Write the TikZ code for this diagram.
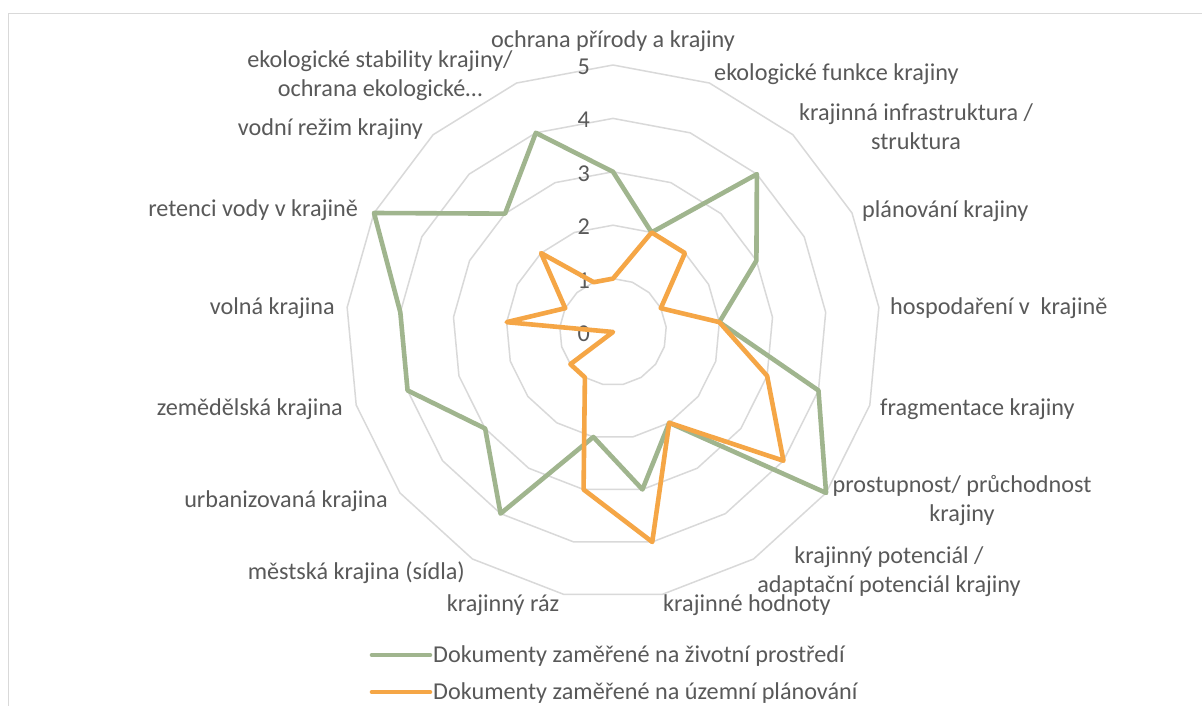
\documentclass[tikz,border=0pt]{standalone}
\usepackage{fontspec}
\setmainfont{Carlito}
\definecolor{txt}{HTML}{595959}
\definecolor{gridc}{HTML}{D9D9D9}
\definecolor{envg}{HTML}{A0B58E}
\definecolor{plano}{HTML}{F5A646}
\newcommand{\twoln}[2]{\vtop{\halign{\hfil##\hfil\cr #1\cr #2\cr}}}
\begin{document}
\begin{tikzpicture}[x=1pt,y=-1pt,
  every node/.style={font=\fontsize{24.2}{29}\selectfont, text=txt, inner sep=0pt},
  gridline/.style={draw=gridc, line width=1.5pt, line join=round},
  serg/.style={draw=envg, line width=4.6pt, line join=round},
  sero/.style={draw=plano, line width=4.6pt, line join=round},
  lbl/.style={anchor=base},
  lblw/.style={anchor=base west},
  lble/.style={anchor=base east}]
\useasboundingbox (0,0) rectangle (1202,705);
\fill[white] (0,0) rectangle (1202,705);
% chart border
\draw[draw=gridc, line width=1.5pt] (8.5,13.5) rectangle (1230,740);
% grid rings
\foreach \v in {1,...,5}{
  \foreach \k in {0,...,16}{
    \coordinate (r\v-\k) at ({613+\v*53.4*sin(\k*360/17)},{332-\v*53.4*cos(\k*360/17)});
  }
  \draw[gridline] (r\v-0) \foreach \k in {1,...,16}{ -- (r\v-\k)} -- cycle;
}
% scale labels
\foreach \v in {0,...,5}{
  \node[lble] (s\v) at (590,{332-\v*53.4+9.5}) {\v};
}
% data
\foreach \val [count=\k from 0] in {3,2,4,3,2,4,5,2,3,2,4,3,4,4,5,3,4}{
  \coordinate (g\k) at ({613+\val*53.4*sin(\k*360/17)},{332-\val*53.4*cos(\k*360/17)});
}
\foreach \val [count=\k from 0] in {1,2,2,1,2,3,4,2,4,3,1,1,0,2,1,2,1}{
  \coordinate (o\k) at ({613+\val*53.4*sin(\k*360/17)},{332-\val*53.4*cos(\k*360/17)});
}
\draw[serg] (g0) \foreach \k in {1,...,16}{ -- (g\k)} -- cycle;
\draw[sero] (o0) \foreach \k in {1,...,16}{ -- (o\k)} -- cycle;
% category labels
\node[lbl] (l0) at (613,47) {ochrana přírody a krajiny};
\node[lblw] (l1) at (714,80) {ekologické funkce krajiny};
\node[lbl] (l2) at (916,120) {\twoln{krajinná infrastruktura /}{struktura}};
\node[lblw] (l3) at (862,217) {plánování krajiny};
\node[lblw] (l4) at (890,314) {hospodaření v\ \ krajině};
\node[lblw] (l5) at (880,415) {fragmentace krajiny};
\node[lbl] (l6) at (962,492) {\twoln{prostupnost/ průchodnost}{krajiny}};
\node[lbl] (l7) at (889,563) {\twoln{krajinný potenciál /}{adaptační potenciál krajiny}};
\node[lblw] (l8) at (663,611) {krajinné hodnoty};
\node[lbl] (l9) at (503,611) {krajinný ráz};
\node[lble] (l10) at (465,579) {městská krajina (sídla)};
\node[lble] (l11) at (388,507) {urbanizovaná krajina};
\node[lble] (l12) at (343,415) {zemědělská krajina};
\node[lble] (l13) at (335,314) {volná krajina};
\node[lble] (l14) at (358,216) {retenci vody v krajině};
\node[lble] (l15) at (423,135) {vodní režim krajiny};
\node[lbl] (l16) at (380,67) {\twoln{ekologické stability krajiny/}{ochrana ekologické…}};
% legend
\coordinate (lga) at (372,655);
\coordinate (lgb) at (430,655);
\coordinate (lpa) at (372,692);
\coordinate (lpb) at (430,692);
\draw[serg, line cap=round] (lga) -- (lgb);
\draw[sero, line cap=round] (lpa) -- (lpb);
\node[lblw] (lt1) at (433,662.5) {Dokumenty zaměřené na životní prostředí};
\node[lblw] (lt2) at (433,699.5) {Dokumenty zaměřené na územní plánování};
\end{tikzpicture}
\end{document}
